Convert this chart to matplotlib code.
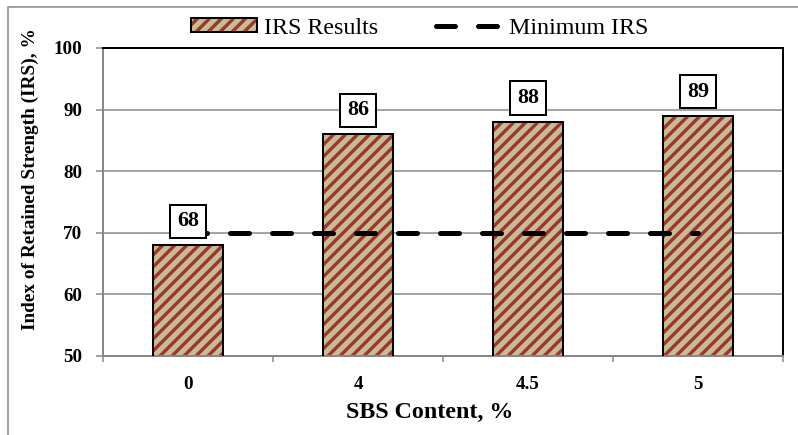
import numpy as np
import matplotlib
matplotlib.use('Agg')
import matplotlib.pyplot as plt
from matplotlib.patches import Rectangle
from matplotlib.legend_handler import HandlerTuple

# data
sbs_content = ['0', '4', '4.5', '5']
irs_results = [68, 86, 88, 89]
irs_minimum = [70, 70, 70, 70]

plt.rcParams['font.family'] = 'Liberation Serif'
plt.rcParams['hatch.linewidth'] = 1.7
plt.rcParams['lines.scale_dashes'] = False

tan = '#C7BC92'
stripe = '#A33333'
grey = '#878787'

fig = plt.figure(figsize=(798 / 144, 435 / 144), dpi=144)
ax = fig.add_axes([103 / 798, 1 - 356 / 435, 680 / 798, 308 / 435])

x = np.arange(len(sbs_content))

# hatched fill, then black outline on top
bars = ax.bar(x, irs_results, width=0.41, color=tan, edgecolor=stripe,
              hatch='////', linewidth=0, zorder=2)
edges = ax.bar(x, irs_results, width=0.41, fill=False, edgecolor='black',
               linewidth=1.0, zorder=3)

line, = ax.plot(x, irs_minimum, color='black', lw=2.5,
                linestyle=(0, (9.5, 11.5)), dash_capstyle='round', zorder=4)

for xi, v in zip(x, irs_results):
    ax.annotate(str(v), (xi, v), xytext=(0, 12), textcoords='offset points',
                ha='center', va='center', fontsize=11, fontweight='bold',
                zorder=5,
                bbox=dict(boxstyle='square,pad=0.3', fc='white', ec='black', lw=1.0))

ax.set_ylim(50, 100)
ax.set_xlim(-0.5, len(sbs_content) - 0.5)
ax.set_yticks(range(50, 101, 10))
ax.yaxis.grid(True, color=grey, lw=0.75, zorder=0)
ax.set_axisbelow(True)

# category boundaries get the tick marks, labels sit at the centres
ax.set_xticks(np.arange(-0.5, len(sbs_content), 1.0))
ax.set_xticklabels([])
ax.set_xticks(x, minor=True)
ax.set_xticklabels(sbs_content, minor=True)
ax.tick_params(axis='x', which='major', direction='out', length=3, width=0.75, color=grey)
ax.tick_params(axis='x', which='minor', length=0, pad=10, labelsize=9.5)
ax.tick_params(axis='y', direction='out', length=3.5, width=0.75, color=grey,
               pad=7, labelsize=9.5)
for lab in ax.get_xticklabels(minor=True) + ax.get_yticklabels():
    lab.set_fontweight('bold')

for side in ['left', 'bottom']:
    ax.spines[side].set_color(grey)
    ax.spines[side].set_linewidth(1.0)
for side in ['top', 'right']:
    ax.spines[side].set_color('black')
    ax.spines[side].set_linewidth(1.0)

ax.set_ylabel('Index of Retained Strength (IRS), %', fontsize=9.6, fontweight='bold')
ax.yaxis.set_label_coords(-0.107, 0.575)
ax.yaxis.label.set_va('center')
ax.set_xlabel('SBS Content, %', fontsize=12, fontweight='bold')
ax.xaxis.set_label_coords(0.481, -0.183)
ax.xaxis.label.set_va('center')

fig.legend([(bars[0], edges[0]), line], ['IRS Results', 'Minimum IRS'],
           handler_map={tuple: HandlerTuple(ndivide=1)},
           loc='center', bbox_to_anchor=(420 / 798, 1 - 28 / 435), ncol=2,
           frameon=False, fontsize=12, handlelength=2.75, handleheight=0.5,
           handletextpad=0.3, columnspacing=2.4)

# chart area border
fig.patches.append(Rectangle((8 / 798, -0.1), 1.0, 1.1 - 7 / 435,
                             transform=fig.transFigure, fill=False,
                             ec=grey, lw=0.75, clip_on=False))

fig.savefig('out.png', dpi=144)
